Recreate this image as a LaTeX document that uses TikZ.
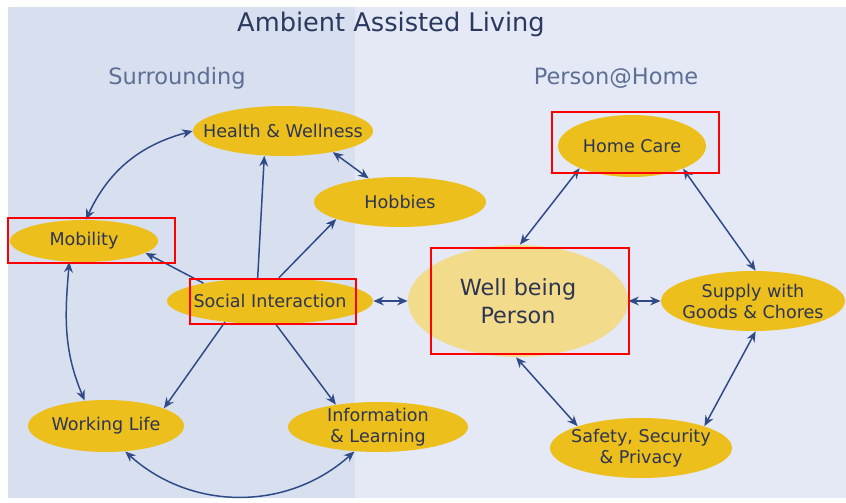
\documentclass[tikz,border=0pt]{standalone}
\usepackage{fontspec}
\setmainfont{DejaVu Sans}
\usetikzlibrary{shapes.geometric,arrows.meta}

\definecolor{bgleft}{HTML}{D8E0F0}
\definecolor{bgright}{HTML}{E4E9F5}
\definecolor{gold}{HTML}{ECBF1D}
\definecolor{paleg}{HTML}{F2DB8A}
\definecolor{ink}{HTML}{2E3550}
\definecolor{navy}{HTML}{2A3A5E}
\definecolor{slate}{HTML}{5D6F95}
\definecolor{arrowblue}{HTML}{2F4A86}

\tikzset{
        bubble/.style={ellipse, fill=gold, inner sep=0pt},
        every label/.style={font=\fontsize{10}{12}\selectfont, text=ink, align=center},
        conn/.style={draw=arrowblue, line width=0.85pt,
                {Stealth[length=6pt,width=5pt]}-{Stealth[length=6pt,width=5pt]}},
        oneway/.style={draw=arrowblue, line width=0.85pt, -{Stealth[length=6pt,width=5pt]}},
        hilite/.style={draw=red, line width=1.1pt},
}

\begin{document}
\begin{tikzpicture}[x=0.02cm, y=-0.02cm]
        \useasboundingbox (0,0) rectangle (846,503);
        \fill[bgleft] (8,7) rectangle (355,498);
        \fill[bgright] (355,7) rectangle (846,498);

        % headings
        \node[anchor=base, text=navy, font=\fontsize{14.6}{17}\selectfont] (title) at (391,32) {Ambient Assisted Living};
        \node[anchor=base, text=slate, font=\fontsize{12.8}{15}\selectfont] (surr) at (177,85) {Surrounding};
        \node[anchor=base, text=slate, font=\fontsize{12.8}{15}\selectfont] (home) at (616,85) {Person@Home};

        % surrounding
        \node[bubble, minimum width=3.6cm, minimum height=1cm, label={center:Health \& Wellness}] (hw) at (283,131) {};
        \node[bubble, minimum width=3.44cm, minimum height=1cm, label={center:Hobbies}] (hob) at (400,202) {};
        \node[bubble, minimum width=2.96cm, minimum height=0.84cm, label={center:Mobility}] (mob) at (84,241) {};
        \node[bubble, minimum width=4.12cm, minimum height=0.92cm, label={center:Social Interaction}] (si) at (270,301) {};
        \node[bubble, minimum width=3.12cm, minimum height=1.04cm, label={center:Working Life}] (wl) at (106,426) {};
        \node[bubble, minimum width=3.6cm, minimum height=1cm, label={center:{Information\\\& Learning}}] (il) at (378,427) {};

        % person at home
        \node[bubble, fill=paleg, minimum width=4.4cm, minimum height=2.24cm,
                label={[font=\fontsize{12.7}{16}\selectfont]center:{Well being\\Person}}] (wb) at (518,301) {};
        \node[bubble, minimum width=2.96cm, minimum height=1.24cm, label={center:Home Care}] (hc) at (632,146) {};
        \node[bubble, minimum width=3.68cm, minimum height=1.2cm, label={center:{Supply with\\Goods \& Chores}}] (sup) at (753,301) {};
        \node[bubble, minimum width=3.64cm, minimum height=1.2cm, label={center:{Safety, Security\\\& Privacy}}] (saf) at (641,448) {};

        \draw[conn] (hw.west) to[out=195,in=65] (mob.85);
        \draw[conn] (hw.337) -- (hob.143);
        \draw[oneway] (si.118) -- (hw.233);
        \draw[oneway] (si.69) -- (hob.195);
        \draw[oneway] (si.165) -- (mob.349);
        \draw[conn] (mob.235) to[out=265,in=113] (wl.130);
        \draw[oneway] (si.205) -- (wl.17);
        \draw[oneway] (si.284) -- (il.152);
        \draw[conn] (wl.307) to[out=-42,in=222] (il.226);
        \draw[conn] (si.east) -- (wb.west);

        \draw[conn] (wb.88) -- (hc.203);
        \draw[conn] (hc.336) -- (sup.85);
        \draw[conn] (wb.east) -- (sup.west);
        \draw[conn] (sup.275) -- (saf.19);
        \draw[conn] (wb.268) -- (saf.161);

        % red marks
        \draw[hilite] (8,218) rectangle (175,263);
        \draw[hilite] (190,279) rectangle (356,324);
        \draw[hilite] (431,248) rectangle (629,354);
        \draw[hilite] (552,112) rectangle (719,173);
\end{tikzpicture}
\end{document}
